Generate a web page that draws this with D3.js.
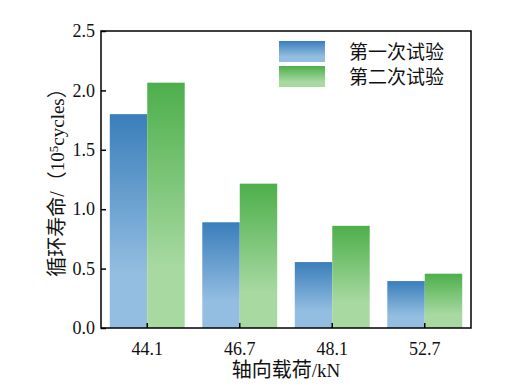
<!DOCTYPE html>
<html><head><meta charset="utf-8">
<script src="https://cdn.jsdelivr.net/npm/d3@7"></script>
<style>
body{margin:0;background:#fff;}
text{font-family:"Liberation Serif","Noto Sans CJK SC",serif;fill:#111;}
</style></head>
<body><svg id="c" width="529" height="390"></svg>
<script>
const categories = ["44.1","46.7","48.1","52.7"];
const seriesNames = ["第一次试验","第二次试验"];
const trial1 = [1.80, 0.89, 0.555, 0.395];
const trial2 = [2.065, 1.215, 0.86, 0.457];
const yTicks = [0, 0.5, 1.0, 1.5, 2.0, 2.5];
const colors = [["#3a7ebb","#94bee1"],["#4daf4b","#a7d9a1"]];

const svg = d3.select("#c");
const m = {l:101, t:31, r:471, b:328};
const x = d3.scaleBand().domain(categories).range([m.l, m.r]).paddingInner(0.19).paddingOuter(0.095);
const xs = d3.scaleBand().domain([0,1]).range([0, x.bandwidth()]);
const y = d3.scaleLinear().domain([0, 2.5]).range([m.b, m.t]);

const defs = svg.append("defs");
colors.forEach((c,i)=>{
  const g = defs.append("linearGradient").attr("id","g"+i).attr("x1",0).attr("y1",0).attr("x2",0).attr("y2",1);
  g.append("stop").attr("offset","0%").attr("stop-color",c[0]);
  g.append("stop").attr("offset","75%").attr("stop-color",c[1]);
  g.append("stop").attr("offset","100%").attr("stop-color",c[1]);
});

const data = [trial1, trial2];
data.forEach((vals,si)=>{
  svg.append("g").selectAll("rect").data(vals).join("rect")
    .attr("x",(d,i)=>x(categories[i])+xs(si))
    .attr("width",xs.bandwidth())
    .attr("y",d=>y(d))
    .attr("height",d=>m.b-y(d))
    .attr("fill","url(#g"+si+")");
});

// axes
const ax = svg.append("g").attr("transform",`translate(0,${m.b})`)
  .call(d3.axisBottom(x).tickSize(-5).tickPadding(14));
ax.select(".domain").remove();
ax.selectAll("line").attr("stroke","#000").attr("stroke-width",1.5);
ax.selectAll("text").attr("font-size",18).attr("fill","#111");

const ay = svg.append("g").attr("transform",`translate(${m.l},0)`)
  .call(d3.axisLeft(y).tickValues(yTicks).tickFormat(d3.format(".1f")).tickSize(-5).tickPadding(6));
ay.select(".domain").remove();
ay.selectAll("line").attr("stroke","#000").attr("stroke-width",1.5);
ay.selectAll("text").attr("font-size",18).attr("fill","#111");

svg.append("rect").attr("x",m.l).attr("y",m.t).attr("width",m.r-m.l).attr("height",m.b-m.t)
  .attr("fill","none").attr("stroke","#000").attr("stroke-width",1.5);

// titles
const xl = svg.append("text").attr("x",(m.l+m.r)/2).attr("y",377).attr("text-anchor","middle");
xl.append("tspan").attr("font-size",20).text("轴向载荷");
xl.append("tspan").attr("font-size",19).text("/kN");
const yl = svg.append("text").attr("transform",`translate(64,${(m.t+m.b)/2 - 2}) rotate(-90)`)
  .attr("text-anchor","middle");
yl.append("tspan").attr("font-size",20).text("循环寿命/（");
yl.append("tspan").attr("font-size",19).text("10");
yl.append("tspan").attr("font-size",13).attr("dy",-6).text("5");
yl.append("tspan").attr("font-size",19).attr("dy",6).text("cycles");
yl.append("tspan").attr("font-size",20).text("）");

// legend
const lg = svg.append("g");
seriesNames.forEach((n,i)=>{
  lg.append("rect").attr("x",279).attr("y",41+i*25).attr("width",46).attr("height",21).attr("fill","url(#g"+i+")");
  lg.append("text").attr("x",349).attr("y",59+i*25).attr("font-size",19).text(n);
});
</script></body></html>
